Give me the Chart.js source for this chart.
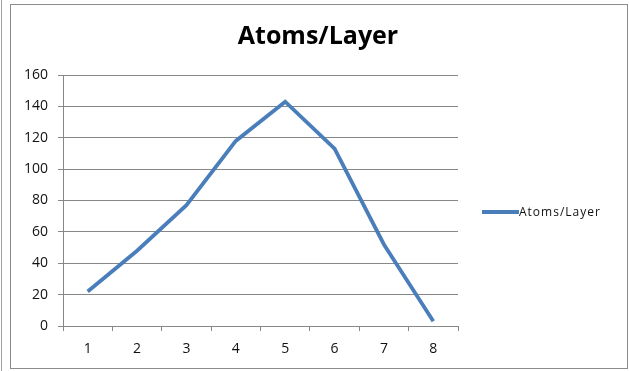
<!DOCTYPE html>
<html>
<head>
<meta charset="utf-8">
<script src="https://cdn.jsdelivr.net/npm/chart.js@4/dist/chart.umd.min.js"></script>
<style>
  html, body { margin: 0; padding: 0; background: #fff; }
  #wrap { width: 629px; height: 371px; position: relative; }
</style>
</head>
<body>
<div id="wrap"><canvas id="chart" width="629" height="371"></canvas></div>
<script>
// Layer index on the x axis and number of atoms in each layer
const layers = ['1', '2', '3', '4', '5', '6', '7', '8'];
const atomsPerLayer = [22, 48, 77, 118, 143, 113, 52, 3];
const seriesName = 'Atoms/Layer';
const chartTitle = 'Atoms/Layer';
const yTicks = { min: 0, max: 160, step: 20 };

const LINE_BLUE = '#4a7ebb';
const GRID_GREY = '#878787';
const TEXT = '#111';
const FONT = "'Open Sans', 'DejaVu Sans', sans-serif";

// Frame, title and legend drawn around the plot
const decorations = {
  id: 'decorations',
  beforeDraw(chart) {
    const ctx = chart.ctx;
    ctx.save();
    ctx.fillStyle = '#fff';
    ctx.fillRect(0, 0, chart.width, chart.height);
    ctx.strokeStyle = '#a0a0a0';
    ctx.lineWidth = 1;
    ctx.beginPath();
    ctx.moveTo(1.5, 0);
    ctx.lineTo(1.5, chart.height);
    ctx.stroke();
    ctx.strokeStyle = '#8c8c8c';
    ctx.strokeRect(10.5, 4.5, 617, 364);
    ctx.restore();
  },
  afterDraw(chart) {
    const ctx = chart.ctx;
    ctx.save();
    // title
    ctx.fillStyle = '#000';
    ctx.font = "bold 25px " + FONT;
    ctx.textAlign = 'center';
    ctx.textBaseline = 'alphabetic';
    ctx.fillText(chartTitle, 318, 44);
    // legend
    const ds = chart.data.datasets[0];
    const ly = 212;
    ctx.strokeStyle = ds.borderColor;
    ctx.lineWidth = ds.borderWidth;
    ctx.beginPath();
    ctx.moveTo(482, ly);
    ctx.lineTo(519, ly);
    ctx.stroke();
    ctx.fillStyle = TEXT;
    ctx.font = "12px " + FONT;
    ctx.textAlign = 'left';
    ctx.textBaseline = 'middle';
    ctx.letterSpacing = '1px';
    ctx.fillText(ds.label, 519, ly + 1);
    ctx.restore();
  }
};

new Chart(document.getElementById('chart'), {
  type: 'line',
  data: {
    labels: layers,
    datasets: [{
      label: seriesName,
      data: atomsPerLayer,
      borderColor: LINE_BLUE,
      borderWidth: 3.8,
      pointRadius: 0,
      tension: 0,
      fill: false
    }]
  },
  options: {
    responsive: false,
    animation: false,
    devicePixelRatio: 1,
    layout: { padding: { left: 10, right: 171, top: 75, bottom: 5 } },
    plugins: {
      legend: { display: false },
      title: { display: false },
      tooltip: { enabled: false }
    },
    scales: {
      x: {
        offset: true,
        afterFit(s) { s.height = 40; },
        grid: {
          offset: true,
          drawOnChartArea: false,
          drawTicks: true,
          tickLength: 5,
          color: GRID_GREY
        },
        border: { display: true, color: GRID_GREY, width: 1 },
        ticks: { color: TEXT, font: { family: FONT, size: 14 }, padding: 10, maxRotation: 0 }
      },
      y: {
        min: yTicks.min,
        max: yTicks.max,
        afterFit(s) { s.width = 53; },
        grid: {
          color: GRID_GREY,
          drawTicks: true,
          tickLength: 5
        },
        border: { display: true, color: GRID_GREY, width: 1 },
        ticks: { stepSize: yTicks.step, color: TEXT, font: { family: FONT, size: 14 }, padding: 10 }
      }
    }
  },
  plugins: [decorations]
});
</script>
</body>
</html>
